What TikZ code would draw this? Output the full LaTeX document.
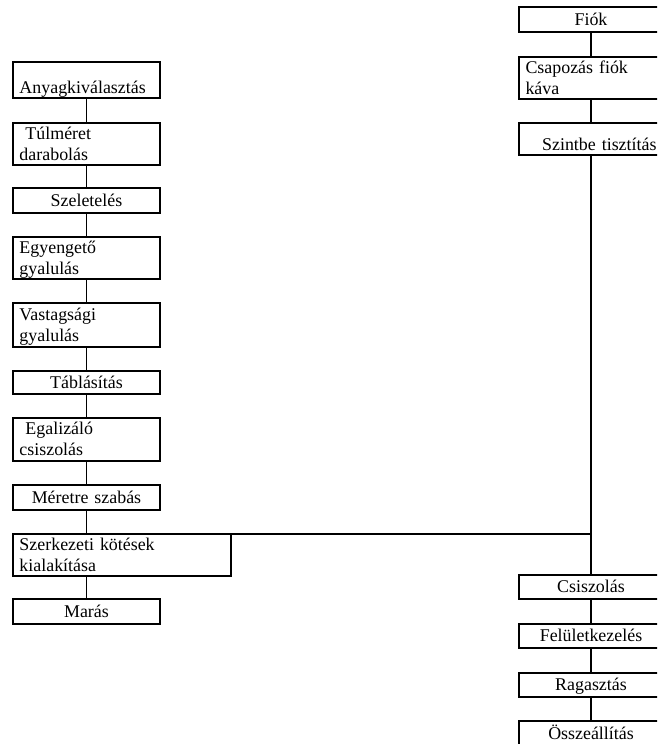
\documentclass[tikz,border=0pt]{standalone}
\usepackage{fontspec}
\setmainfont{Liberation Serif}
\newcommand{\sor}{\rule[-5pt]{0pt}{21pt}}
\newcommand{\betu}{\fontsize{17.9}{21}\selectfont}

\begin{document}
\begin{tikzpicture}[x=1pt,y=-1pt]
			\tikzstyle{muvelet}=[rectangle,draw,line width=1.2pt,anchor=north west,inner ysep=0pt,inner xsep=6.5pt,outer sep=0pt,font=\betu]
			\tikzstyle{bal}=[muvelet,text width=134pt,minimum height=25pt]
			\tikzstyle{jobb}=[muvelet,text width=131pt,minimum height=25pt]
			\tikzstyle{vonal}=[line width=1.2pt]
			\useasboundingbox (0,0) rectangle (657,744);
			\clip (0,0) rectangle (657,744);
			
			\node[bal,align=left,minimum height=36pt] (anyag) at (13,62) {\sor\\[-6pt]\sor Anyagkiválasztás};
			\node[bal,align=left,minimum height=40pt] (tulmeret) at (13,123) {\sor\ Túlméret\\\sor darabolás};
			\node[bal,align=center] (szeletel) at (13,188) {\sor Szeletelés};
			\node[bal,align=left,minimum height=42pt] (egyenget) at (13,237) {\sor Egyengető\\\sor gyalulás};
			\node[bal,align=left,minimum height=44pt] (vastag) at (13,303) {\sor Vastagsági\\\sor gyalulás};
			\node[bal,align=center,minimum height=23pt] (tablas) at (13,371) {\sor Táblásítás};
			\node[bal,align=left,minimum height=43pt] (egaliz) at (13,418) {\sor\ Egalizáló\\\sor csiszolás};
			\node[bal,align=center] (meretre) at (13,485) {\sor Méretre szabás};
			\node[muvelet,text width=205pt,minimum height=42pt,align=left] (szerkezet) at (13,534) {\sor Szerkezeti kötések\\\sor kialakítása};
			\node[bal,align=center] (maras) at (13,599) {\sor Marás};
			
			\node[jobb,align=center] (fiok) at (519,7) {\sor Fiók};
			\node[jobb,align=left,minimum height=42pt] (csapozas) at (519,57) {\sor Csapozás fiók\\\sor káva};
			\node[jobb,align=right,minimum height=32pt] (szintbe) at (519,123) {\sor\\[-10pt]\sor Szintbe tisztítás};
			\node[jobb,align=center,minimum height=24pt] (csiszol) at (519,575) {\sor Csiszolás};
			\node[jobb,align=center,minimum height=24pt] (feluletk) at (519,624) {\sor Felületkezelés};
			\node[jobb,align=center,minimum height=24pt] (ragaszt) at (519,673) {\sor Ragasztás};
			\node[jobb,align=center] (osszeall) at (519,721) {\sor Összeállítás};
			
			\draw[vonal] (anyag.south) -- (tulmeret.north);
			\draw[vonal] (tulmeret.south) -- (szeletel.north);
			\draw[vonal] (szeletel.south) -- (egyenget.north);
			\draw[vonal] (egyenget.south) -- (vastag.north);
			\draw[vonal] (vastag.south) -- (tablas.north);
			\draw[vonal] (tablas.south) -- (egaliz.north);
			\draw[vonal] (egaliz.south) -- (meretre.north);
			\draw[vonal] (meretre.south) -- (meretre.south |- szerkezet.north);
			\draw[vonal] (maras.north |- szerkezet.south) -- (maras.north);
			
			\draw[vonal] (fiok.south) -- (csapozas.north);
			\draw[vonal] (csapozas.south) -- (szintbe.north);
			\draw[vonal] (szintbe.south) -- (csiszol.north);
			\draw[vonal] (szerkezet.north east) -- (szerkezet.north east -| szintbe.south);
			\draw[vonal] (csiszol.south) -- (feluletk.north);
			\draw[vonal] (feluletk.south) -- (ragaszt.north);
			\draw[vonal] (ragaszt.south) -- (osszeall.north);
\end{tikzpicture}
\end{document}
